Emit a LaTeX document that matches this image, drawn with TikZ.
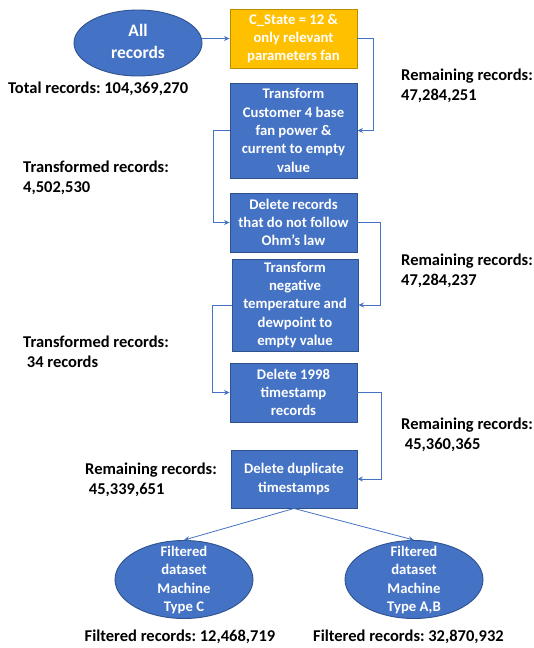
\documentclass[tikz,border=0pt]{standalone}
\usepackage{fontspec}
\setmainfont{Carlito}
\usetikzlibrary{arrows.meta,shapes.geometric}
\frenchspacing

\definecolor{boxblue}{HTML}{4472C4}
\definecolor{boxedge}{HTML}{2F528F}
\definecolor{gold}{HTML}{FFC000}
\definecolor{goldedge}{HTML}{BC8C00}
\definecolor{linkblue}{HTML}{4472C4}

\tikzset{
  stepbox/.style={draw=boxedge, line width=0.9pt, fill=boxblue, text=white,
    font=\bfseries\fontsize{14.7}{18.3}\selectfont, align=center,
    inner sep=0pt, minimum width=127pt},
  filterbox/.style={stepbox, draw=goldedge, fill=gold},
  blob/.style={ellipse, draw=boxedge, line width=0.9pt, fill=boxblue, inner sep=0pt},
  blobtext/.style={text=white, align=center, inner sep=0pt,
    font=\bfseries\fontsize{14.7}{18.3}\selectfont},
  % base anchor of a two-line count sits on its last line
  count/.style={anchor=base west, align=left, inner sep=0pt, text=black,
    font=\bfseries\fontsize{16.5}{20}\selectfont},
  link/.style={draw=linkblue, line width=0.8pt, -{Stealth[length=5.5pt,width=5pt]}},
}

\begin{document}
\begin{tikzpicture}[x=1pt,y=-1pt]
\useasboundingbox (0,0) rectangle (534,648);

% source data set
\node[blob, minimum width=128pt, minimum height=66pt] (all) at (138,43) {};
\node[blobtext, font=\bfseries\fontsize{17.5}{22}\selectfont] (alltext) at (138,41) {All\\records};

% processing steps
\node[filterbox, minimum height=59pt] (state) at (293.5,38.5) {C\_State = 12 \&\\only relevant\\parameters fan};
\node[stepbox, minimum height=95pt] (fan) at (293.5,130.5) {Transform\\Customer 4 base\\fan power \&\\current to empty\\value};
\node[stepbox, minimum height=59pt] (ohm) at (293.5,222.5) {Delete records\\that do not follow\\Ohm’s law};
\node[stepbox, minimum height=92pt, minimum width=126pt] (neg) at (295,305) {Transform\\negative\\temperature and\\dewpoint to\\empty value};
\node[stepbox, minimum height=59pt] (old) at (293.5,392.5) {Delete 1998\\timestamp\\records};
\node[stepbox, minimum height=58pt, minimum width=126pt] (dup) at (294,479) {Delete duplicate\\timestamps};

% resulting data sets
\node[blob, minimum width=138pt, minimum height=78pt] (typec) at (184,579.5) {};
\node[blobtext] (typectext) at (184,580) {Filtered\\dataset\\Machine\\Type C};
\node[blob, minimum width=138pt, minimum height=78pt] (typeab) at (414,579.5) {};
\node[blobtext] (typeabtext) at (414,580) {Filtered\\dataset\\Machine\\Type A,B};

% connectors
\draw[link] (all.east |- state.west) -- (state.west);
\draw[link] (state.east) -- ++(16,0) |- (fan.east);
\draw[link] (fan.west) -- ++(-16,0) |- (ohm.west);
\draw[link] (ohm.east) -- ++(23,0) |- (neg.east);
\draw[link] (neg.west) -- ++(-19,0) |- (old.west);
\draw[link] (old.east) -- ++(24,0) |- (dup.east);
\draw[link] (dup.south) -- (typec.north);
\draw[link] (dup.south) -- (typeab.north);

% record counts
\node[count] (total) at (8,93) {Total records: 104,369,270};
\node[count] (rem1) at (401,100) {Remaining records:\\47,284,251};
\node[count] (tr1) at (23,192) {Transformed records:\\4,502,530};
\node[count] (rem2) at (401,285) {Remaining records:\\47,284,237};
\node[count] (tr2) at (23,367) {Transformed records:\\\ 34 records};
\node[count] (rem3) at (401,449) {Remaining records:\\\ 45,360,365};
\node[count] (rem4) at (85,494) {Remaining records:\\\ 45,339,651};
\node[count, anchor=base] (fc) at (180,641) {Filtered records: 12,468,719};
\node[count, anchor=base] (fab) at (408.5,641) {Filtered records: 32,870,932};
\end{tikzpicture}
\end{document}
